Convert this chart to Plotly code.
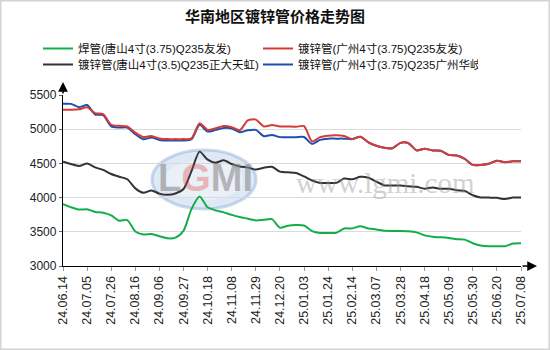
import plotly.graph_objects as go

# Weekly sampling dates (yy.mm.dd)
dates = [
    "24.06.14", "24.06.21", "24.06.28", "24.07.05", "24.07.12", "24.07.19",
    "24.07.26", "24.08.02", "24.08.09", "24.08.16", "24.08.23", "24.08.30",
    "24.09.06", "24.09.13", "24.09.20", "24.09.27", "24.10.08", "24.10.11",
    "24.10.18", "24.10.25", "24.11.01", "24.11.08", "24.11.15", "24.11.22",
    "24.11.29", "24.12.06", "24.12.13", "24.12.20", "24.12.27", "24.12.31",
    "25.01.03", "25.01.10", "25.01.17", "25.01.24", "25.01.27", "25.02.07",
    "25.02.14", "25.02.21", "25.02.28", "25.03.07", "25.03.14", "25.03.21",
    "25.03.28", "25.04.03", "25.04.11", "25.04.18", "25.04.25", "25.04.30",
    "25.05.09", "25.05.16", "25.05.23", "25.05.30", "25.06.06", "25.06.13",
    "25.06.20", "25.06.27", "25.07.04", "25.07.08",
]

# 焊管 唐山4寸(3.75) Q235 友发
welded_ts = [
    3905, 3860, 3825, 3830, 3790, 3780, 3740, 3662, 3672, 3505,
    3460, 3468, 3436, 3405, 3415, 3515, 3835, 4015, 3858, 3813,
    3784, 3747, 3716, 3692, 3667, 3675, 3685, 3560, 3590, 3598,
    3592, 3511, 3484, 3484, 3484, 3548, 3550, 3582, 3548, 3535,
    3516, 3513, 3512, 3508, 3492, 3448, 3426, 3420, 3410, 3392,
    3386, 3333, 3299, 3289, 3289, 3289, 3328, 3333,
]

# 镀锌管 广州4寸(3.75) Q235 友发
galv_gz_yf = [
    5284, 5284, 5290, 5320, 5235, 5220, 5065, 5050, 5040, 4950,
    4885, 4900, 4865, 4855, 4855, 4855, 4865, 5088, 4990, 5015,
    5045, 5030, 4985, 5130, 5140, 5040, 5060, 5040, 5040, 5035,
    5045, 4820, 4885, 4905, 4910, 4900, 4855, 4890, 4808, 4757,
    4728, 4722, 4800, 4795, 4690, 4715, 4690, 4685, 4625, 4615,
    4566, 4478, 4478, 4494, 4540, 4518, 4530, 4530,
]

# 镀锌管 唐山4寸(3.5) Q235 正大天虹
galv_ts_zd = [
    4525, 4490, 4462, 4498, 4442, 4405, 4345, 4305, 4268, 4135,
    4070, 4105, 4058, 4040, 4060, 4125, 4390, 4672, 4555, 4510,
    4545, 4492, 4455, 4440, 4410, 4438, 4450, 4380, 4370, 4360,
    4310, 4250, 4215, 4215, 4215, 4278, 4268, 4303, 4290, 4235,
    4178, 4178, 4176, 4166, 4157, 4130, 4148, 4130, 4130, 4108,
    4098, 4035, 4002, 4000, 3996, 3978, 4000, 4000,
]

# 镀锌管 广州4寸(3.75) Q235 广州华岐
galv_gz_hq = [
    5373, 5370, 5322, 5353, 5215, 5206, 5040, 5025, 5025, 4927,
    4853, 4878, 4843, 4834, 4834, 4834, 4853, 5064, 4966, 4990,
    5018, 5010, 4955, 4985, 4990, 4898, 4917, 4884, 4884, 4884,
    4886, 4784, 4844, 4862, 4862, 4862, 4855, 4890, 4808, 4757,
    4728, 4722, 4800, 4795, 4690, 4715, 4690, 4685, 4625, 4615,
    4566, 4478, 4478, 4494, 4540, 4518, 4530, 4530,
]

names = [
    "焊管(唐山4寸(3.75)Q235友发)",
    "镀锌管(广州4寸(3.75)Q235友发)",
    "镀锌管(唐山4寸(3.5)Q235正大天虹)",
    "镀锌管(广州4寸(3.75)Q235广州华岐)",
]
colors = ["#12ae4a", "#d63b36", "#333333", "#1d4fb0"]

y_ticks = [3000, 3500, 4000, 4500, 5000, 5500]
x_ticks = dates[::3]

FONT = "Liberation Sans, Noto Sans CJK SC, sans-serif"

fig = go.Figure()

# draw order: green, black, blue, red (red over blue where they coincide);
# legend rows: green | red, then black | blue
series = [
    (welded_ts, 0, 1, "legend"),
    (galv_ts_zd, 2, 1, "legend2"),
    (galv_gz_hq, 3, 2, "legend2"),
    (galv_gz_yf, 1, 2, "legend"),
]
for values, k, rank, leg in series:
    fig.add_trace(go.Scatter(
        x=dates, y=values, name=names[k], mode="lines",
        line=dict(color=colors[k], width=2, shape="spline", smoothing=0.7),
        legend=leg, legendrank=rank, hoverinfo="x+y+name",
    ))

ML, MR, MT, MB = 63, 29, 95, 84
W, H = 550, 350
PW, PH = W - ML - MR, H - MT - MB


def px_x(p):
    return (p - ML) / PW


def px_y(p):
    return (H - MB - p) / PH


shapes = [
    # outer frame
    dict(type="rect", xref="paper", yref="paper",
         x0=px_x(0.5), x1=px_x(W - 0.5), y0=px_y(H - 0.5), y1=px_y(0.5),
         line=dict(color="#d4d4d4", width=2), fillcolor="rgba(0,0,0,0)",
         layer="below"),
    # watermark oval
    dict(type="circle", xref="paper", yref="paper",
         x0=px_x(152), x1=px_x(256), y0=px_y(209), y1=px_y(150),
         line=dict(color="rgba(110,150,205,0.35)", width=3),
         fillcolor="rgba(140,175,220,0.28)", layer="below"),
    dict(type="circle", xref="paper", yref="paper",
         x0=px_x(165), x1=px_x(243), y0=px_y(200), y1=px_y(160),
         line=dict(width=0),
         fillcolor="rgba(255,255,255,0.35)", layer="below"),
]

annotations = [
    dict(text="<b>L<span style='color:rgba(225,70,70,0.6)'>G</span>MI</b>",
         xref="paper", yref="paper", x=px_x(205), y=px_y(178),
         xanchor="center", yanchor="middle", showarrow=False,
         font=dict(family="Liberation Sans, sans-serif", size=38,
                   color="rgba(140,140,140,0.6)")),
    dict(text="www.lgmi.com", xref="paper", yref="paper",
         x=px_x(385), y=px_y(183), xanchor="center", yanchor="middle",
         showarrow=False,
         font=dict(family="Liberation Serif, serif", size=29,
                   color="rgba(150,150,150,0.45)")),
    # axis arrowheads
    dict(text="", xref="paper", yref="paper", x=0, y=px_y(82),
         ax=0, ay=13, axref="pixel", ayref="pixel",
         showarrow=True, arrowhead=2, arrowsize=1.3, arrowwidth=1.5,
         arrowcolor="#000"),
    dict(text="", xref="paper", yref="paper", x=px_x(537), y=0,
         ax=-16, ay=0, axref="pixel", ayref="pixel",
         showarrow=True, arrowhead=2, arrowsize=1.3, arrowwidth=1.5,
         arrowcolor="#000"),
]


def legend_row(top_px):
    return dict(
        orientation="h", xref="container", yref="container",
        x=38 / W, y=1 - top_px / H, xanchor="left", yanchor="top",
        entrywidth=175, entrywidthmode="pixels",
        font=dict(family=FONT, size=11.5, color="#111"),
        bgcolor="rgba(0,0,0,0)", itemwidth=30,
    )


fig.update_layout(
    width=W, height=H,
    margin=dict(l=ML, r=MR, t=MT, b=MB, autoexpand=False),
    paper_bgcolor="white", plot_bgcolor="white",
    font=dict(family=FONT, size=12, color="#222"),
    title=dict(
        text="<b>华南地区镀锌管价格走势图</b>",
        xref="container", yref="container", x=0.5, y=1 - 17 / H,
        xanchor="center", yanchor="middle",
        font=dict(family="Noto Sans CJK SC, sans-serif", size=15, color="#111"),
    ),
    showlegend=True,
    legend=legend_row(34),
    legend2=legend_row(50),
    shapes=shapes,
    annotations=annotations,
    xaxis=dict(
        type="category", categoryorder="array", categoryarray=dates,
        range=[0, len(dates) - 1],
        tickmode="array", tickvals=x_ticks, ticktext=x_ticks,
        tickangle=-90, tickfont=dict(size=12.5, color="#222"),
        showgrid=False, showline=True, linecolor="#000", linewidth=1.3,
        ticks="outside", ticklen=4, tickcolor="#999", zeroline=False,
    ),
    yaxis=dict(
        range=[3000, 5500], tickmode="array", tickvals=y_ticks,
        tickfont=dict(size=12, color="#222"),
        showgrid=True, gridcolor="#dadada", gridwidth=1,
        showline=True, linecolor="#000", linewidth=1.3,
        ticks="outside", ticklen=3, tickcolor="#666", zeroline=False,
    ),
)

fig.write_html("out.html")
